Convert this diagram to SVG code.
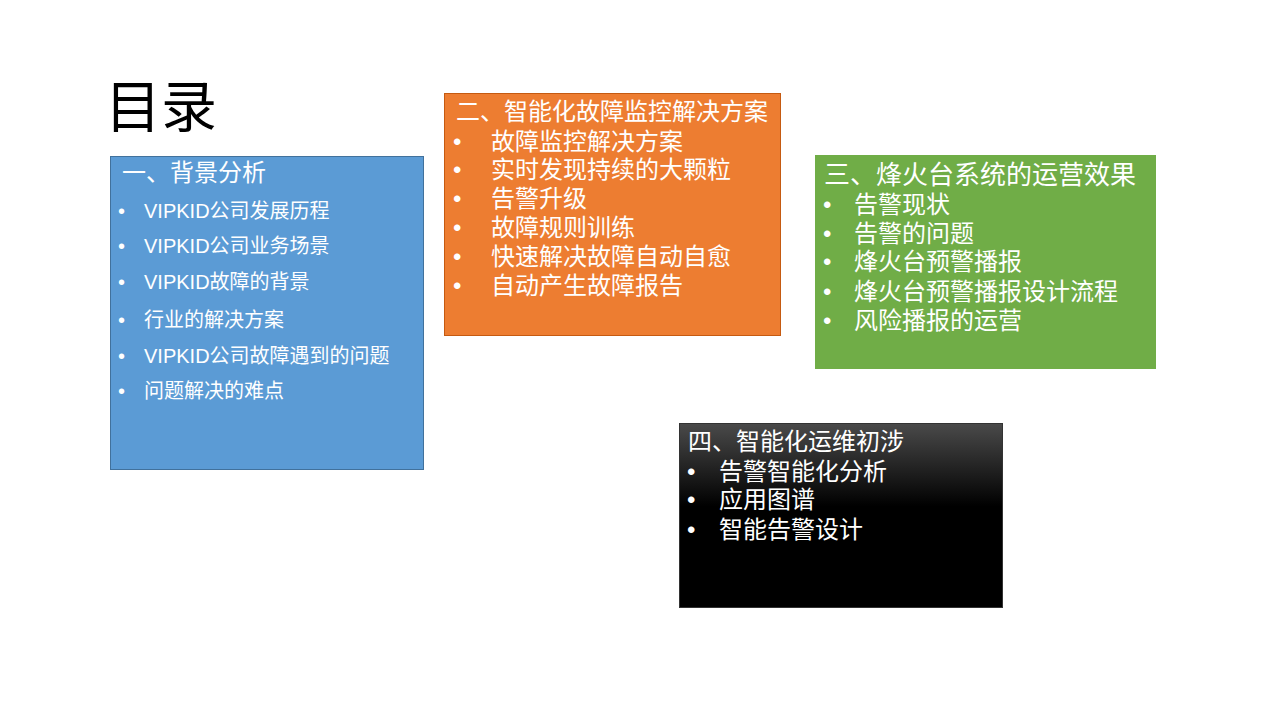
<svg xmlns="http://www.w3.org/2000/svg" width="1279" height="719" viewBox="0 0 1279 719">
<style>
text{font-family:"Liberation Sans","Noto Sans CJK SC",sans-serif;fill:#fff}
.h{font-size:24px}.b{font-size:24px}.s{font-size:20px}
</style>
<defs><linearGradient id="g" x1="0" y1="0" x2="0" y2="1"><stop offset="0" stop-color="#4a4a4a"/><stop offset="0.45" stop-color="#000"/></linearGradient></defs>
<rect width="1279" height="719" fill="#fff"/>
<text x="105" y="127" style="font-size:56px;fill:#000">目录</text>
<g id="n1"><rect x="110.5" y="156.5" width="313" height="313" fill="#5b9bd5" stroke="#41719c"/>
<text x="122" y="181" class="h">一、背景分析</text>
<g class="s"><text x="118" y="218">•</text><text x="144" y="218">VIPKID公司发展历程</text>
<text x="118" y="253">•</text><text x="144" y="253">VIPKID公司业务场景</text>
<text x="118" y="289">•</text><text x="144" y="289">VIPKID故障的背景</text>
<text x="118" y="327">•</text><text x="144" y="327">行业的解决方案</text>
<text x="118" y="363">•</text><text x="144" y="363">VIPKID公司故障遇到的问题</text>
<text x="118" y="398">•</text><text x="144" y="398">问题解决的难点</text></g></g>
<g id="n2"><rect x="444.5" y="93.5" width="336" height="242" fill="#ed7d31" stroke="#c55a11"/>
<text x="456" y="120" class="h">二、智能化故障监控解决方案</text>
<g class="b"><text x="453" y="150">•</text><text x="491" y="150">故障监控解决方案</text>
<text x="453" y="178">•</text><text x="491" y="178">实时发现持续的大颗粒</text>
<text x="453" y="207">•</text><text x="491" y="207">告警升级</text>
<text x="453" y="236">•</text><text x="491" y="236">故障规则训练</text>
<text x="453" y="265">•</text><text x="491" y="265">快速解决故障自动自愈</text>
<text x="453" y="294">•</text><text x="491" y="294">自动产生故障报告</text></g></g>
<g id="n3"><rect x="815" y="155" width="341" height="214" fill="#70ad47"/>
<text x="824" y="184" style="font-size:26px">三、烽火台系统的运营效果</text>
<g class="b"><text x="823" y="213">•</text><text x="854" y="213">告警现状</text>
<text x="823" y="242">•</text><text x="854" y="242">告警的问题</text>
<text x="823" y="270">•</text><text x="854" y="270">烽火台预警播报</text>
<text x="823" y="300">•</text><text x="854" y="300">烽火台预警播报设计流程</text>
<text x="823" y="329">•</text><text x="854" y="329">风险播报的运营</text></g></g>
<g id="n4"><rect x="679.5" y="423.5" width="323" height="184" fill="url(#g)" stroke="#333"/>
<text x="688" y="450" class="h">四、智能化运维初涉</text>
<g class="b"><text x="687" y="480">•</text><text x="719" y="480">告警智能化分析</text>
<text x="687" y="508">•</text><text x="719" y="508">应用图谱</text>
<text x="687" y="538">•</text><text x="719" y="538">智能告警设计</text></g></g>
<g id="connectors"/>
</svg>
